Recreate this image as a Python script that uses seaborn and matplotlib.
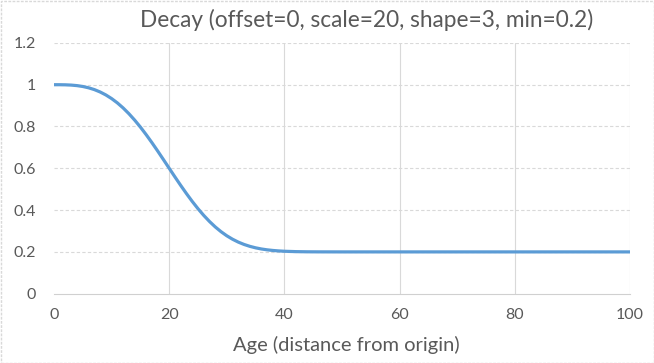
import matplotlib
matplotlib.use("Agg")
import matplotlib.pyplot as plt
import seaborn as sns
import pandas as pd
from matplotlib.patches import Rectangle

age = list(range(0, 41)) + [42, 44, 46, 48, 50, 60, 70, 80, 90, 100]
decay = [1.0, 0.9999, 0.9994, 0.9981, 0.9956, 0.9914, 0.9852, 0.9766, 0.9653, 0.9510,
         0.9336, 0.9129, 0.8888, 0.8613, 0.8307, 0.7972, 0.7610, 0.7227, 0.6827, 0.6416,
         0.6000, 0.5586, 0.5180, 0.4788, 0.4415, 0.4066, 0.3745, 0.3454, 0.3194, 0.2967,
         0.2771, 0.2606, 0.2468, 0.2356, 0.2266, 0.2195, 0.2140, 0.2099, 0.2069, 0.2047,
         0.2031, 0.2013, 0.2005, 0.2002, 0.2001, 0.2000, 0.2, 0.2, 0.2, 0.2, 0.2]
x_ticks = [0, 20, 40, 60, 80, 100]
y_ticks = [0, 0.2, 0.4, 0.6, 0.8, 1.0, 1.2]
y_tick_labels = ["0", "0.2", "0.4", "0.6", "0.8", "1", "1.2"]
title = "Decay (offset=0, scale=20, shape=3, min=0.2)"
x_label = "Age (distance from origin)"

df = pd.DataFrame({"age": age, "decay": decay})

sns.set_theme(style="white")
plt.rcParams["font.family"] = ["Lato", "DejaVu Sans"]

fig = plt.figure(figsize=(6.54, 3.63), dpi=100)
ax = fig.add_axes([54 / 654, 1 - 293.7 / 363, (630 - 54) / 654, (293.7 - 42.9) / 363])

sns.lineplot(data=df, x="age", y="decay", ax=ax, color="#5B9BD5", linewidth=2.3)

ax.set_xlim(0, 100)
ax.set_ylim(0, 1.2)
ax.set_xticks(x_ticks)
ax.set_yticks(y_ticks)
ax.set_yticklabels(y_tick_labels)
ax.tick_params(axis="both", length=0, labelsize=11.5, colors="#595959")
ax.tick_params(axis="y", pad=13)
ax.tick_params(axis="x", pad=10)

for y in y_ticks[1:]:
    ax.axhline(y, color="#D9D9D9", linewidth=0.8, linestyle=(0, (3, 2)), zorder=0)
for x in x_ticks[1:]:
    ax.axvline(x, color="#D9D9D9", linewidth=0.8, zorder=0)

for s in ["top", "right", "left"]:
    ax.spines[s].set_visible(False)
ax.spines["bottom"].set_color("#D0D0D0")
ax.spines["bottom"].set_linewidth(0.8)

ax.set_xlabel("")
ax.set_ylabel("")
fig.text(346 / 654, 1 - 345 / 363, x_label, ha="center", va="center", fontsize=14.5, color="#595959")

fig.text(367 / 654, 1 - 20 / 363, title, ha="center", va="center", fontsize=16.3, color="#595959")

fig.patches.append(Rectangle((0.5 / 654, 0.5 / 363), 653 / 654, 362 / 363, transform=fig.transFigure,
                             fill=False, edgecolor="#D9D9D9", linewidth=1, linestyle=(0, (2, 1))))

fig.savefig("out.png", dpi=100)
